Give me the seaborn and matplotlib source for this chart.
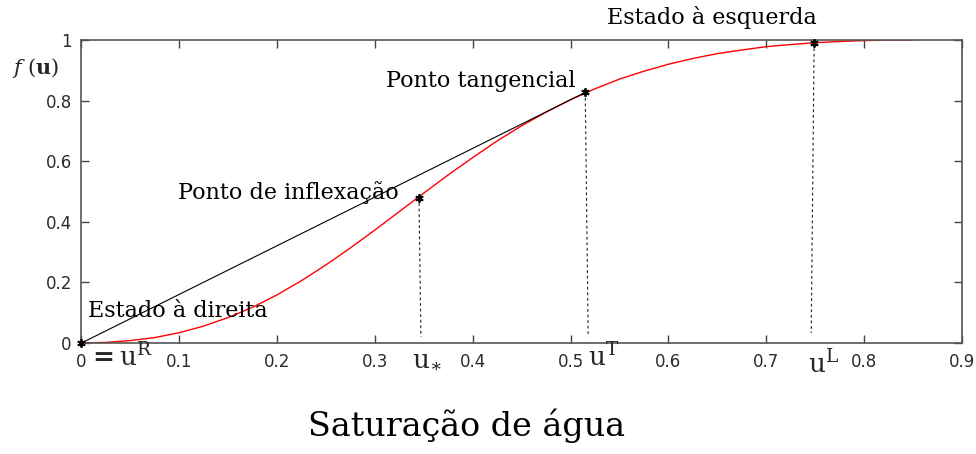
import matplotlib
matplotlib.use("Agg")
import matplotlib.pyplot as plt
import seaborn as sns
import pandas as pd

# Fractional flow curve f(u) versus water saturation u
u_vals = [0.000, 0.025, 0.050, 0.075, 0.100, 0.125, 0.150, 0.175, 0.200, 0.225,
          0.250, 0.275, 0.300, 0.325, 0.350, 0.375, 0.400, 0.425, 0.450, 0.475,
          0.500, 0.525, 0.550, 0.575, 0.600, 0.625, 0.650, 0.675, 0.700, 0.725,
          0.750, 0.775, 0.800, 0.825, 0.850]
f_vals = [0.000, 0.002, 0.008, 0.018, 0.034, 0.056, 0.084, 0.118, 0.159, 0.206,
          0.258, 0.314, 0.373, 0.434, 0.495, 0.555, 0.612, 0.667, 0.717, 0.762,
          0.803, 0.839, 0.871, 0.897, 0.920, 0.939, 0.955, 0.967, 0.978, 0.985,
          0.991, 0.995, 0.998, 1.000, 1.000]

# Special states: right state, inflection, tangency, left state
pt_names = ["uR", "u*", "uT", "uL"]
pt_u = [0.000, 0.345, 0.515, 0.749]
pt_f = [0.000, 0.480, 0.827, 0.991]
# feet of the dashed guides (inflection, tangency, left state)
foot_u = [0.347, 0.518, 0.746]
foot_f = [0.020, 0.020, 0.033]

x_ticks = [0, 0.1, 0.2, 0.3, 0.4, 0.5, 0.6, 0.7, 0.8, 0.9]
x_ticklabels = ["0", "0.1", "0.2", "0.3", "0.4", "0.5", "0.6", "0.7", "0.8", "0.9"]
y_ticks = [0, 0.2, 0.4, 0.6, 0.8, 1.0]
y_ticklabels = ["0", "0.2", "0.4", "0.6", "0.8", "1"]

sns.set_theme(style="white")
plt.rcParams["font.family"] = ["DejaVu Sans"]
plt.rcParams["mathtext.fontset"] = "dejavuserif"

curve = pd.DataFrame({"u": u_vals, "f": f_vals})

fig = plt.figure(figsize=(9.76, 4.54), dpi=100)
ax = fig.add_axes([0.0835, 0.2445, 0.902, 0.6674])

sns.lineplot(data=curve, x="u", y="f", ax=ax, color="red", linewidth=1.0,
             sort=False, estimator=None)

# chord from the right state to the tangency point
ax.plot([pt_u[0], pt_u[2]], [pt_f[0], pt_f[2]], color="black", linewidth=0.8)

# dashed guides down to the axis
for i in range(1, 4):
    ax.plot([pt_u[i], foot_u[i - 1]], [pt_f[i], foot_f[i - 1]], color="#222222",
            linewidth=0.8, linestyle=(0, (2.5, 2.5)))

ax.plot(pt_u, pt_f, linestyle="none", marker=(6, 2, 0), color="black",
        markersize=6, markeredgewidth=1.3, clip_on=False, zorder=5)

ax.set_xlim(0, 0.9)
ax.set_ylim(0, 1)
ax.set_xticks(x_ticks)
ax.set_xticklabels(x_ticklabels)
ax.set_yticks(y_ticks)
ax.set_yticklabels(y_ticklabels)
ax.tick_params(direction="in", length=6, width=1.0, color="#444444",
               labelsize=12, labelcolor="#2b2b2b", pad=7,
               top=True, right=True, bottom=True, left=True)
for side in ax.spines.values():
    side.set_visible(True)
    side.set_color("#555555")
    side.set_linewidth(1.2)
ax.set_xlabel("")
ax.set_ylabel("")

serif = ["DejaVu Serif"]
txt_kw = dict(family=serif, fontsize=16, color="black")
ax.text(0.0067, 0.106, "Estado à direita", va="center", ha="left", **txt_kw)
ax.text(0.0988, 0.498, "Ponto de inflexação", va="center", ha="left", **txt_kw)
ax.text(0.3117, 0.865, "Ponto tangencial", va="center", ha="left", **txt_kw)
ax.text(0.537, 1.073, "Estado à esquerda", va="center", ha="left",
        clip_on=False, **txt_kw)

# state labels under the axis
ax.text(0.0055, -0.077, r"$\mathbf{=}\mathrm{u}^{\mathrm{R}}$", fontsize=19,
        va="baseline", ha="left", clip_on=False)
ax.text(0.338, -0.077, r"$\mathrm{u}_{\ast}$", fontsize=19,
        va="baseline", ha="left", clip_on=False)
ax.text(0.518, -0.077, r"$\mathrm{u}^{\mathrm{T}}$", fontsize=19,
        va="baseline", ha="left", clip_on=False)
ax.text(0.743, -0.099, r"$\mathrm{u}^{\mathrm{L}}$", fontsize=19,
        va="baseline", ha="left", clip_on=False)

# y-axis name
ax.text(-0.071, 0.908, r"$f\ (\mathbf{u})$", fontsize=15, va="center",
        ha="left", clip_on=False)

fig.text(0.4785, 0.04, "Saturação de água", family=serif, fontsize=24,
         ha="center", va="baseline", color="black")

fig.savefig("out.png", dpi=100)
